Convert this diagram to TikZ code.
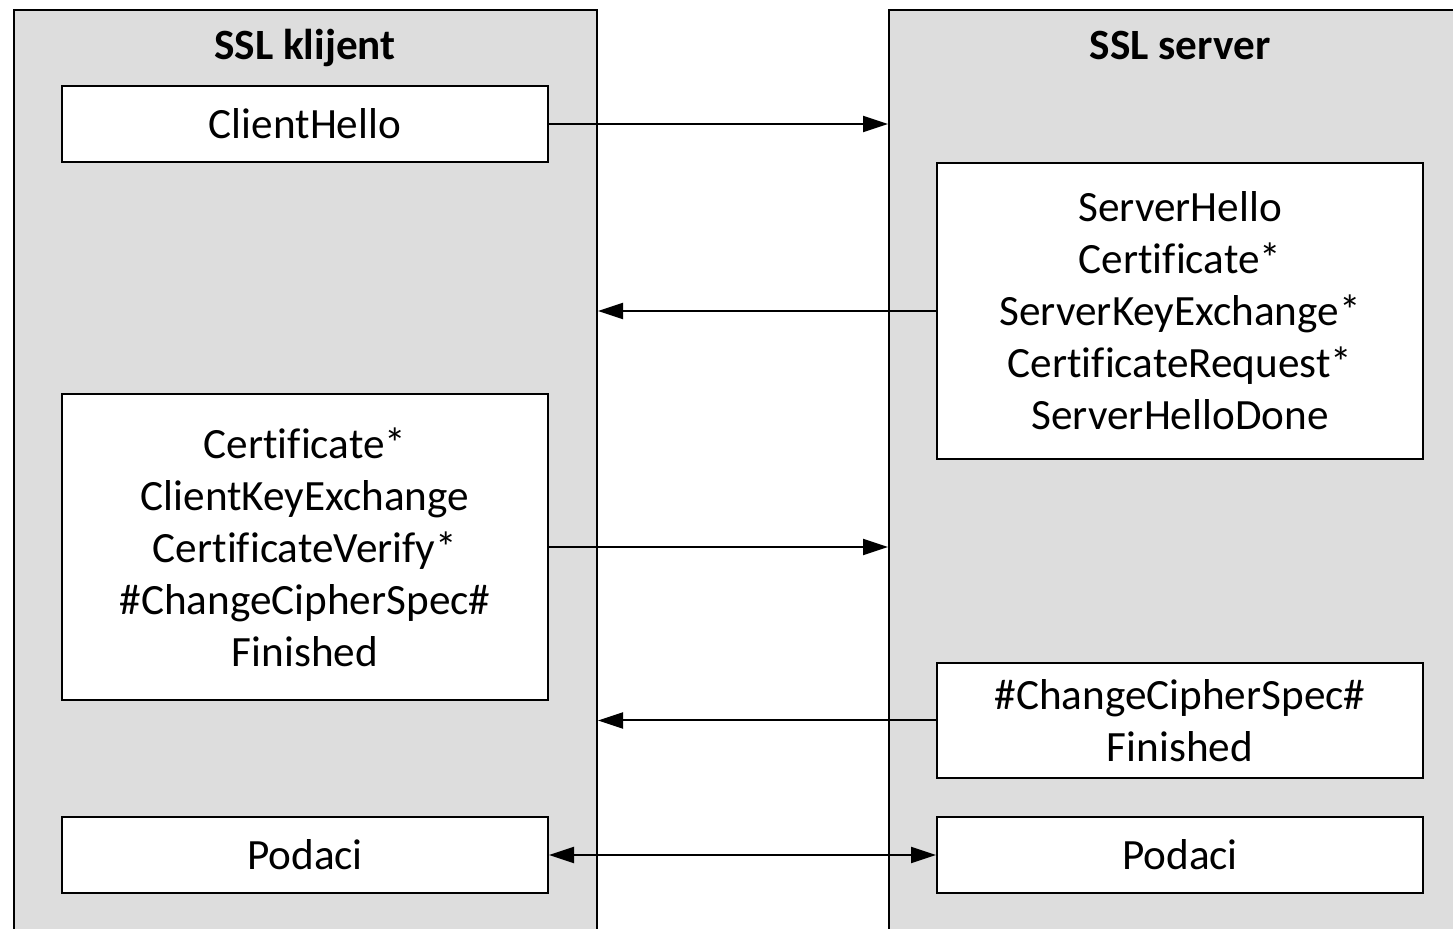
\documentclass[tikz,border=0pt]{standalone}
\usepackage{fontspec}
\setmainfont{Carlito}[Ligatures=NoCommon]
\usetikzlibrary{arrows.meta}
\definecolor{panelgray}{RGB}{221,221,221}

\begin{document}
\begin{tikzpicture}[x=0.5pt,y=-0.5pt,line width=1pt,
	panel/.style={draw,fill=panelgray,minimum width=#1,minimum height=495pt,inner sep=0pt},
	msg/.style={draw,fill=white,minimum width=243pt,minimum height=#1,align=center,inner sep=0pt,
		font=\fontsize{21.6}{26}\selectfont},
	title/.style={anchor=base,font=\fontsize{21.6}{26}\selectfont\bfseries},
	flow/.style={-{Triangle[length=12.5pt,width=8pt]}},
	dflow/.style={{Triangle[length=12.5pt,width=8pt]}-{Triangle[length=12.5pt,width=8pt]}}]
		\useasboundingbox (0,0) rectangle (1453,929);
		\clip (0,0) rectangle (1453,929);
		% the two sides
		\node[panel=291.5pt] (client) at (305.5,505) {};
		\node[panel=305.5pt] (server) at (1194.5,505) {};
		\node[title] (ctitle) at (305,60) {SSL klijent};
		\node[title] (stitle) at (1180,60) {SSL server};
		% messages
		\node[msg=38pt] (hello) at (305,124) {ClientHello};
		\node[msg=148pt] (srvhello) at (1180,311) {ServerHello\\Certificate*\\ServerKeyExchange*\\CertificateRequest*\\ServerHelloDone};
		\node[msg=153pt] (clikey) at (305,547) {Certificate*\\ClientKeyExchange\\CertificateVerify*\\\#ChangeCipherSpec\#\\Finished};
		\node[msg=57.5pt] (srvfin) at (1180,720.5) {\#ChangeCipherSpec\#\\Finished};
		\node[msg=38pt] (cdata) at (305,855) {Podaci};
		\node[msg=38pt] (sdata) at (1180,855) {Podaci};
		% arrows
		\draw[flow] (hello.east) -- (hello.east -| server.west);
		\draw[flow] (srvhello.west) -- (srvhello.west -| client.east);
		\draw[flow] (clikey.east) -- (clikey.east -| server.west);
		\draw[flow] (srvfin.west) -- (srvfin.west -| client.east);
		\draw[dflow] (cdata.east) -- (sdata.west);
\end{tikzpicture}
\end{document}
